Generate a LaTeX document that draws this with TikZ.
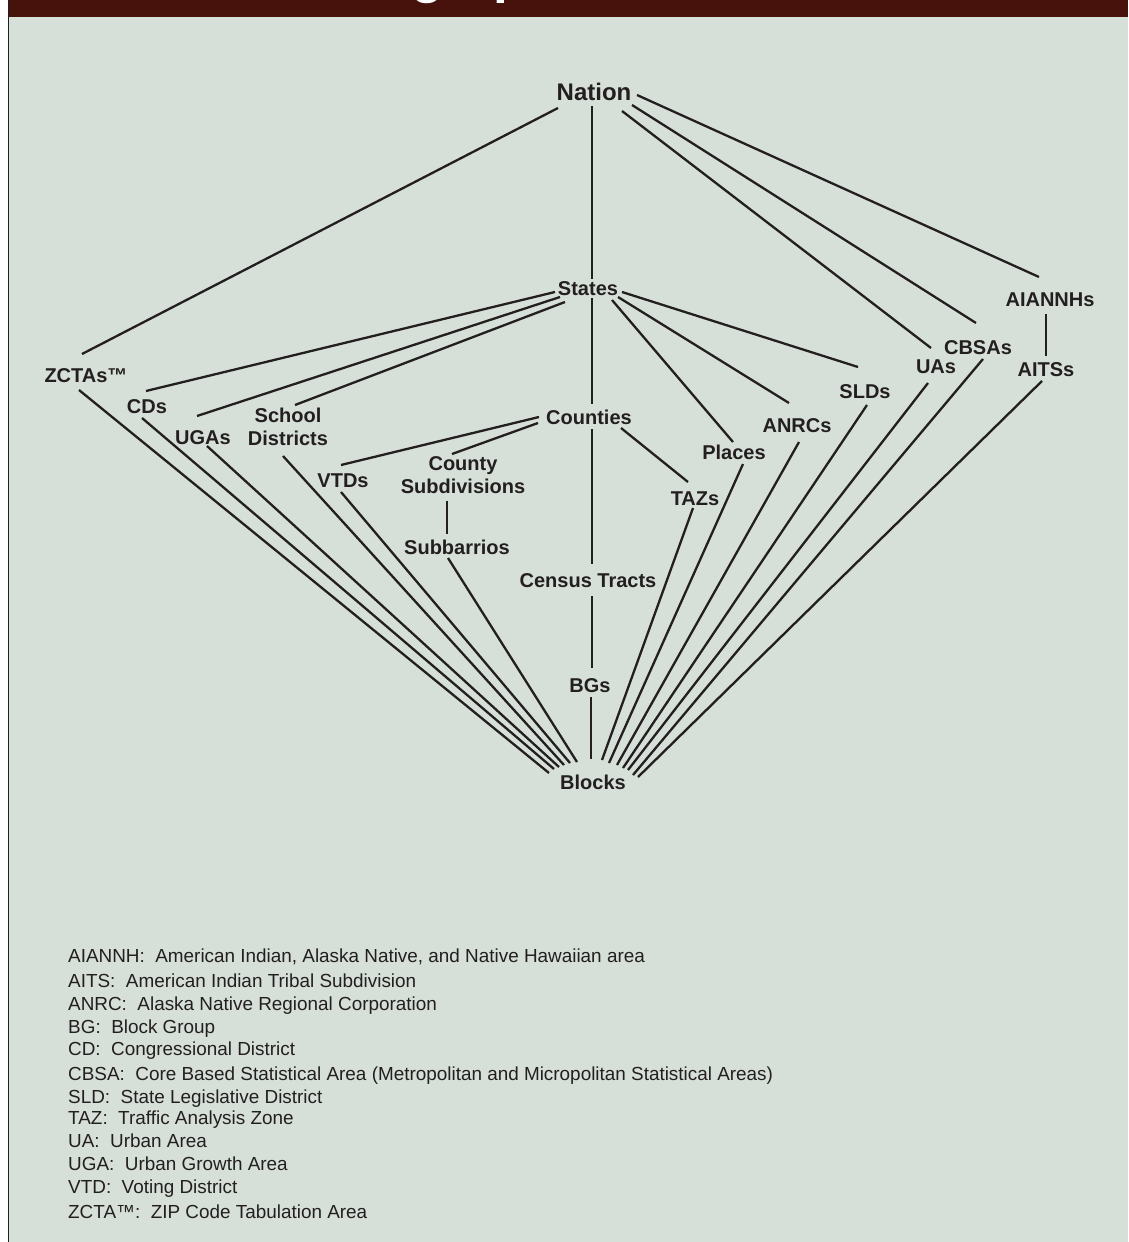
\documentclass[tikz,border=0pt]{standalone}
\usepackage{fontspec}
\setmainfont{Liberation Sans}
\definecolor{bgcol}{RGB}{214,224,216}
\definecolor{bannercol}{RGB}{72,18,12}
\definecolor{inkcol}{RGB}{35,31,32}
\begin{document}
\begin{tikzpicture}[x=1pt,y=-1pt,
  lbl/.style={inner sep=0pt, text=inkcol, font=\bfseries\fontsize{20}{23}\selectfont, text height=14.3pt, text depth=0pt},
  lbltwo/.style={inner sep=0pt, text=inkcol, align=center, font=\bfseries\fontsize{20}{23}\selectfont},
  bigl/.style={inner sep=0pt, text=inkcol, font=\bfseries\fontsize{24}{28}\selectfont, text height=17.2pt, text depth=0pt},
  legend/.style={inner sep=0pt, anchor=west, text=inkcol, font=\fontsize{18.9}{22}\selectfont, text height=13.5pt, text depth=0pt},
  link/.style={draw=inkcol, line width=2.3pt}]
\useasboundingbox (0,0) rectangle (1128,1242);
% background and frame
\fill[white] (0,0) rectangle (1128,1242);
\fill[bgcol] (8,17) rectangle (1128,1242);
\fill[bannercol] (8,0) rectangle (1128,17);
\begin{scope}
  \clip (8,0) rectangle (1128,17);
  \node[anchor=base west, inner sep=0pt, text=white, font=\bfseries\fontsize{53}{60}\selectfont] (title) at (308,-8) {Geographic};
\end{scope}
\draw[inkcol, line width=1.3pt] (8.5,0) -- (8.5,1242);

% nodes
\node[bigl] (nation) at (594,92) {Nation};
\node[lbl] (states) at (588,288) {States};
\node[lbl] (zcta) at (86,375) {ZCTAs™};
\node[lbl] (cd) at (147,406) {CDs};
\node[lbl] (uga) at (203,437) {UGAs};
\node[lbltwo] (school) at (288,427) {School\\Districts};
\node[lbl] (vtd) at (343,480) {VTDs};
\node[lbl] (counties) at (589,417) {Counties};
\node[lbltwo] (cousub) at (463,475) {County\\Subdivisions};
\node[lbl] (subbar) at (457,547) {Subbarrios};
\node[lbl] (tract) at (588,580) {Census Tracts};
\node[lbl] (bg) at (590,685) {BGs};
\node[lbl] (blocks) at (593,782) {Blocks};
\node[lbl] (taz) at (695,498) {TAZs};
\node[lbl] (places) at (734,452) {Places};
\node[lbl] (anrc) at (797,425) {ANRCs};
\node[lbl] (sld) at (865,391) {SLDs};
\node[lbl] (ua) at (936,366) {UAs};
\node[lbl] (cbsa) at (978,347) {CBSAs};
\node[lbl] (aiannh) at (1050,299) {AIANNHs};
\node[lbl] (aits) at (1046,369) {AITSs};

% connectors from Nation
\draw[link] ([shift={(-36,16)}]nation.center) -- ([shift={(-4,-21)}]zcta.center);
\draw[link] ([shift={(-2,14)}]nation.center) -- ([shift={(4,-9)}]states.center);
\draw[link] ([shift={(28,19)}]nation.center) -- ([shift={(-5,-18)}]ua.center);
\draw[link] ([shift={(38,13)}]nation.center) -- ([shift={(-2,-24)}]cbsa.center);
\draw[link] ([shift={(43,3)}]nation.center) -- ([shift={(-11,-22)}]aiannh.center);
% from States
\draw[link] ([shift={(-33,4)}]states.center) -- ([shift={(-1,-15)}]cd.center);
\draw[link] ([shift={(-28,9)}]states.center) -- ([shift={(-6,-21)}]uga.center);
\draw[link] ([shift={(-23,14)}]states.center) -- ([shift={(7,-22)}]school.center);
\draw[link] ([shift={(4,10)}]states.center) -- ([shift={(3,-13)}]counties.center);
\draw[link] ([shift={(24,12)}]states.center) -- ([shift={(-1,-10)}]places.center);
\draw[link] ([shift={(30,9)}]states.center) -- ([shift={(-8,-22)}]anrc.center);
\draw[link] ([shift={(34,4)}]states.center) -- ([shift={(-7,-24)}]sld.center);
% from Counties
\draw[link] ([shift={(-50,0)}]counties.center) -- ([shift={(-2,-15)}]vtd.center);
\draw[link] ([shift={(-51,6)}]counties.center) -- ([shift={(-11,-21)}]cousub.center);
\draw[link] ([shift={(32,11)}]counties.center) -- ([shift={(-7,-16)}]taz.center);
\draw[link] ([shift={(3,12)}]counties.center) -- ([shift={(4,-16)}]tract.center);
% chains
\draw[link] ([shift={(-16,26)}]cousub.center) -- ([shift={(-10,-13)}]subbar.center);
\draw[link] ([shift={(4,16)}]tract.center) -- ([shift={(2,-17)}]bg.center);
\draw[link] ([shift={(1,12)}]bg.center) -- ([shift={(-2,-23)}]blocks.center);
\draw[link] ([shift={(-4,15)}]aiannh.center) -- ([shift={(0,-13)}]aits.center);
% to Blocks, left side
\draw[link] ([shift={(-7,15)}]zcta.center) -- ([shift={(-44,-9)}]blocks.center);
\draw[link] ([shift={(-5,12)}]cd.center) -- ([shift={(-39,-13)}]blocks.center);
\draw[link] ([shift={(4,9)}]uga.center) -- ([shift={(-34,-15)}]blocks.center);
\draw[link] ([shift={(-5,29)}]school.center) -- ([shift={(-29,-17)}]blocks.center);
\draw[link] ([shift={(-2,12)}]vtd.center) -- ([shift={(-23,-19)}]blocks.center);
\draw[link] ([shift={(-9,11)}]subbar.center) -- ([shift={(-16,-20)}]blocks.center);
% to Blocks, right side
\draw[link] ([shift={(-2,10)}]taz.center) -- ([shift={(9,-22)}]blocks.center);
\draw[link] ([shift={(9,12)}]places.center) -- ([shift={(16,-19)}]blocks.center);
\draw[link] ([shift={(2,17)}]anrc.center) -- ([shift={(24,-17)}]blocks.center);
\draw[link] ([shift={(2,14)}]sld.center) -- ([shift={(30,-14)}]blocks.center);
\draw[link] ([shift={(-8,17)}]ua.center) -- ([shift={(35,-12)}]blocks.center);
\draw[link] ([shift={(5,12)}]cbsa.center) -- ([shift={(40,-7)}]blocks.center);
\draw[link] ([shift={(-4,12)}]aits.center) -- ([shift={(45,-5)}]blocks.center);

% legend
\node[legend] (l1) at (68,956) {AIANNH:\ \ American Indian, Alaska Native, and Native Hawaiian area};
\node[legend] (l2) at (68,981) {AITS:\ \ American Indian Tribal Subdivision};
\node[legend] (l3) at (68,1004) {ANRC:\ \ Alaska Native Regional Corporation};
\node[legend] (l4) at (68,1027) {BG:\ \ Block Group};
\node[legend] (l5) at (68,1049) {CD:\ \ Congressional District};
\node[legend] (l6) at (68,1074) {CBSA:\ \ Core Based Statistical Area (Metropolitan and Micropolitan Statistical Areas)};
\node[legend] (l7) at (68,1097) {SLD:\ \ State Legislative District};
\node[legend] (l8) at (68,1118) {TAZ:\ \ Traffic Analysis Zone};
\node[legend] (l9) at (68,1141) {UA:\ \ Urban Area};
\node[legend] (l10) at (68,1164) {UGA:\ \ Urban Growth Area};
\node[legend] (l11) at (68,1187) {VTD:\ \ Voting District};
\node[legend] (l12) at (68,1212) {ZCTA™:\ \ ZIP Code Tabulation Area};
\end{tikzpicture}
\end{document}
